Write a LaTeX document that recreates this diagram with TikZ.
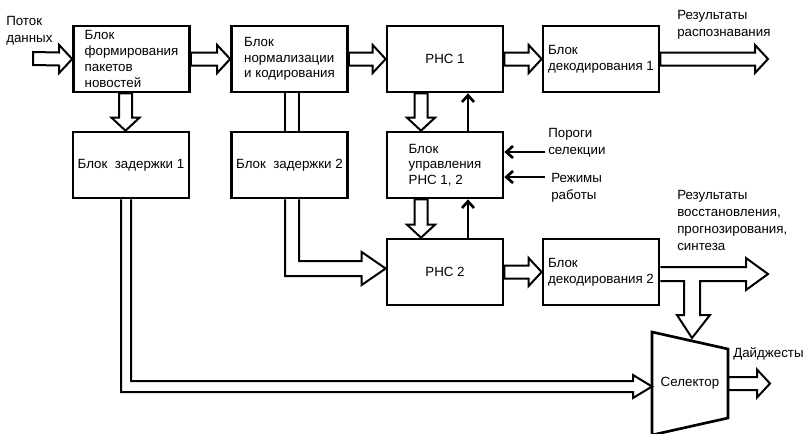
\documentclass[tikz,border=0pt]{standalone}
\usepackage{fontspec}
\setmainfont{Liberation Sans}
\usetikzlibrary{arrows.meta,calc}

\newcommand{\busS}{6.5}
\newcommand{\busW}{14}
\newcommand{\busH}{13}
\newcommand{\hbus}[2]{\draw[bus] ($(#1)+(0,-\busS)$) -- ($(#2)+(-\busH,-\busS)$) -- ++(0,\busS-\busW) -- (#2) -- ($(#2)+(-\busH,\busW)$) -- ++(0,\busS-\busW) -- ($(#1)+(0,\busS)$) -- cycle;}
\newcommand{\vbus}[2]{\draw[bus] ($(#1)+(-\busS,0)$) -- ($(#2)+(-\busS,-\busH)$) -- ++(\busS-\busW,0) -- (#2) -- ($(#2)+(\busW,-\busH)$) -- ++(\busS-\busW,0) -- ($(#1)+(\busS,0)$) -- cycle;}

\begin{document}
\begin{tikzpicture}[x=0.75pt,y=-0.75pt,
    font=\fontsize{10}{11.8}\selectfont,
    box/.style={draw,line width=2pt,minimum width=87pt,minimum height=49.5pt,align=left,inner sep=2pt},
    bus/.style={line width=1.5pt,line join=miter},
    sig/.style={line width=2pt,-{Straight Barb[length=5pt,width=9pt]}},
    lbl/.style={align=left,anchor=north west,inner sep=0pt,font=\fontsize{10}{12.75}\selectfont}]

    \useasboundingbox (0,0) rectangle (808,433);

    \node[box] (form) at (131.5,59) {Блок\\формирования\\пакетов\\новостей};
    \node[box] (norm) at (289.5,59) {Блок\\нормализации\\и кодирования};
    \node[box] (rns1) at (445,59) {РНС 1};
    \node[box] (dec1) at (601,59) {Блок\\декодирования 1};
    \node[box] (del1) at (131,165) {Блок\ \ задержки 1};
    \node[box] (del2) at (289.5,165) {Блок\ \ задержки 2};
    \node[box] (ctrl) at (445,165) {Блок\\управления\\РНС 1, 2};
    \node[box] (rns2) at (445,272) {РНС 2};
    \node[box] (dec2) at (601,272) {Блок\\декодирования 2};
    \node (sel) at (690,383.5) {Селектор};
    \draw[line width=2pt,line join=miter] ($(sel)+(-38,-51.5)$) -- ($(sel)+(38,-34.5)$) -- ($(sel)+(38,34.5)$) -- ($(sel)+(-38,51.5)$) -- cycle;

    \node[lbl] (src) at (6,16) {Поток\\данных};
    \node[lbl] (res1) at (677,10.5) {Результаты\\распознавания};
    \node[lbl] (thr) at (548,128) {Пороги\\селекции};
    \node[lbl] (mode) at (551,173) {Режимы\\работы};
    \node[lbl] (res2) at (677,190) {Результаты\\восстановления,\\прогнозирования,\\синтеза};
    \node[lbl] (dig) at (733,347) {Дайджесты};

    \coordinate (in) at (33,58.5);
    \coordinate (out1) at (768,59);
    \hbus{in}{form.west}
    \hbus{form.east}{norm.west}
    \hbus{norm.east}{rns1.west}
    \hbus{rns1.east}{dec1.west}
    \hbus{dec1.east}{out1}
    \hbus{rns2.east}{dec2.west}

    \coordinate (fs) at ($(form.south)+(-6,0)$);
    \coordinate (d1n) at ($(del1.north)+(-5.5,0)$);
    \vbus{fs}{d1n}
    \coordinate (r1s) at ($(rns1.south)+(-24,0)$);
    \coordinate (cn) at ($(ctrl.north)+(-24,0)$);
    \vbus{r1s}{cn}
    \coordinate (cs) at ($(ctrl.south)+(-24,0)$);
    \coordinate (r2n) at ($(rns2.north)+(-24,0)$);
    \vbus{cs}{r2n}

    \draw[sig] ($(ctrl.north)+(23,0)$) -- ($(rns1.south)+(23,0)$);
    \draw[sig] ($(rns2.north)+(23,0)$) -- ($(ctrl.south)+(23,0)$);
    \coordinate (thrA) at (545,152);
    \coordinate (modA) at (545,177);
    \draw[sig] (thrA) -- (thrA -| ctrl.east);
    \draw[sig] (modA) -- (modA -| ctrl.east);

    \draw[bus] ($(norm.south)+(-4.5,0)$) -- ($(del2.north)+(-4.5,0)$);
    \draw[bus] ($(norm.south)+(9.5,0)$) -- ($(del2.north)+(9.5,0)$);

    \coordinate (r2w) at ($(rns2.west)+(0,-3.5)$);
    \draw[bus] ($(del2.south)+(-4.5,0)$) |- ($(r2w)+(-24,7.5)$) -- ++(0,9) -- (r2w) -- ++(-24,-16.5) -- ++(0,9) -| ($(del2.south)+(9.5,0)$);

    \coordinate (sw) at ($(sel)+(-38,3)$);
    \draw[bus] ($(del1.south)+(-10,0)$) |- ($(sw)+(-19,5.5)$) -- ++(0,6) -- (sw) -- ++(-19,-11.5) -- ++(0,6) -| (del1.south);

    \coordinate (o2) at (768,274);
    \coordinate (sn) at ($(sel)+(2,-45.5)$);
    \draw[bus] ($(dec2.east)+(0,-5)$) -- ($(o2)+(-22,-7)$) -- ++(0,-9) -- (o2) -- ++(-22,16) -- ++(0,-9) -| ($(sn)+(8,-23)$) -- ++(10,0) -- (sn) -- ++(-15,-23) -- ++(7,0) |- ($(dec2.east)+(0,9)$);

    \coordinate (se) at ($(sel)+(38,0)$);
    \coordinate (dg) at (770,383.5);
    \hbus{se}{dg}

\end{tikzpicture}
\end{document}
